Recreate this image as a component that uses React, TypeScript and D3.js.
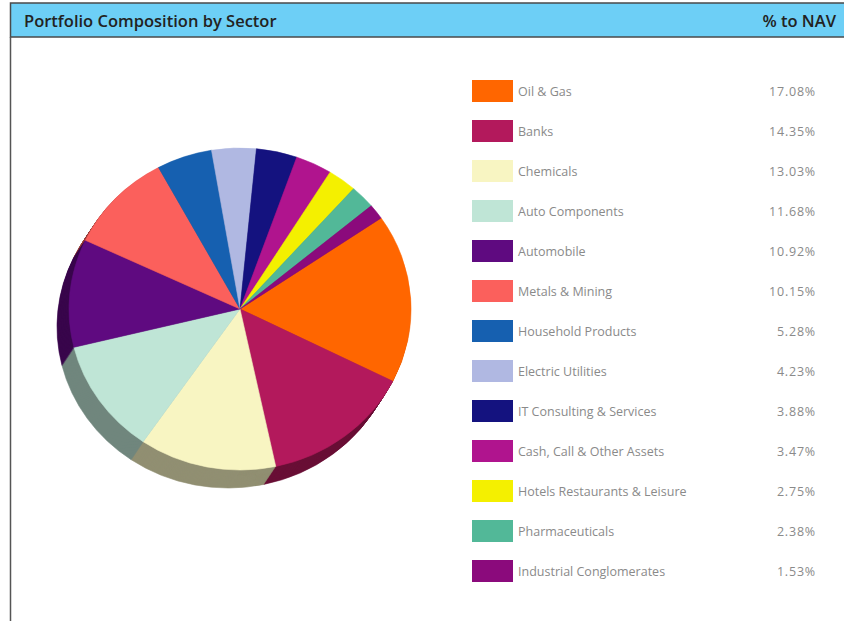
import React from "react";
import * as d3 from "d3";

// Sector allocation, % of net asset value
const sectors = [
  "Oil & Gas",
  "Banks",
  "Chemicals",
  "Auto Components",
  "Automobile",
  "Metals & Mining",
  "Household Products",
  "Electric Utilities",
  "IT Consulting & Services",
  "Cash, Call & Other Assets",
  "Hotels Restaurants & Leisure",
  "Pharmaceuticals",
  "Industrial Conglomerates",
];
const weights = [17.08, 14.35, 13.03, 11.68, 10.92, 10.15, 5.28, 4.23, 3.88, 3.47, 2.75, 2.38, 1.53];
const palette = [
  "#ff6600",
  "#b3195c",
  "#f8f5c2",
  "#bfe5d6",
  "#5f0a80",
  "#fb605c",
  "#1660b0",
  "#b0b8e2",
  "#14127f",
  "#b0148e",
  "#f4f000",
  "#52b898",
  "#8b0a7c",
];
const title = "Portfolio Composition by Sector";
const valueHeader = "% to NAV";

const W = 844;
const H = 621;

type Row = { name: string; value: number; color: string };
const rows: Row[] = sectors.map((name, i) => ({ name, value: weights[i], color: palette[i] }));

export default function App() {
  const cx = 240;
  const cy = 309;
  const rx = 171;
  const ry = 161;
  const depthX = -12;
  const depthY = 18;
  const depthSteps = 18;
  const start = (55.6 * Math.PI) / 180;

  const pie = d3
    .pie<Row>()
    .sort(null)
    .value((d) => d.value)
    .startAngle(start)
    .endAngle(start + 2 * Math.PI);
  const arcs = pie(rows);
  const arc = d3.arc<d3.PieArcDatum<Row>>().innerRadius(0).outerRadius(rx);

  const legendY = d3
    .scaleBand<string>()
    .domain(sectors)
    .range([71, 71 + 40 * sectors.length]);

  const layers = d3.range(depthSteps, 0, -1);

  return (
    <svg
      width={W}
      height={H}
      style={{ position: "absolute", left: 0, top: 0, background: "#fff" }}
    >
      {/* header band */}
      <rect x={10.5} y={3} width={W} height={34} fill="#6dcff6" stroke="#4a4a4a" strokeWidth={1.5} />
      <line x1={10.5} y1={37} x2={10.5} y2={H} stroke="#555" strokeWidth={1.5} />
      <text
        x={24}
        y={27}
        fontFamily="'Open Sans', sans-serif"
        fontWeight={600}
        fontSize={16.5}
        fill="#222"
      >
        {title}
      </text>
      <text
        x={836}
        y={27}
        textAnchor="end"
        fontFamily="'Open Sans', sans-serif"
        fontWeight={600}
        fontSize={16.5}
        fill="#222"
      >
        {valueHeader}
      </text>

      {/* extruded side of the pie */}
      {layers.map((k) => (
        <g
          key={k}
          transform={`translate(${cx + (depthX * k) / depthSteps},${cy + (depthY * k) / depthSteps}) scale(1,${ry / rx})`}
        >
          {arcs.map((a, i) => {
            const c = d3.color(a.data.color)!.darker(1.5).formatHex();
            return <path key={i} d={arc(a) || ""} fill={c} stroke={c} strokeWidth={0.6} />;
          })}
        </g>
      ))}

      {/* top face */}
      <g transform={`translate(${cx},${cy}) scale(1,${ry / rx})`}>
        {arcs.map((a, i) => (
          <path key={i} d={arc(a) || ""} fill={a.data.color} stroke={a.data.color} strokeWidth={0.6} />
        ))}
      </g>

      {/* legend */}
      {rows.map((r) => {
        const y = legendY(r.name)! + legendY.bandwidth() / 2;
        return (
          <g key={r.name}>
            <rect x={472} y={y - 11} width={41} height={22} fill={r.color} />
            <text
              x={518}
              y={y + 4.5}
              fontFamily="'Open Sans', sans-serif"
              fontSize={12.5}
              fill="#8a8a8a"
            >
              {r.name}
            </text>
            <text
              x={816}
              y={y + 4.5}
              textAnchor="end"
              fontFamily="'Open Sans', sans-serif"
              fontSize={12.5}
              letterSpacing={0.8}
              fill="#8a8a8a"
            >
              {r.value.toFixed(2)}%
            </text>
          </g>
        );
      })}
    </svg>
  );
}
